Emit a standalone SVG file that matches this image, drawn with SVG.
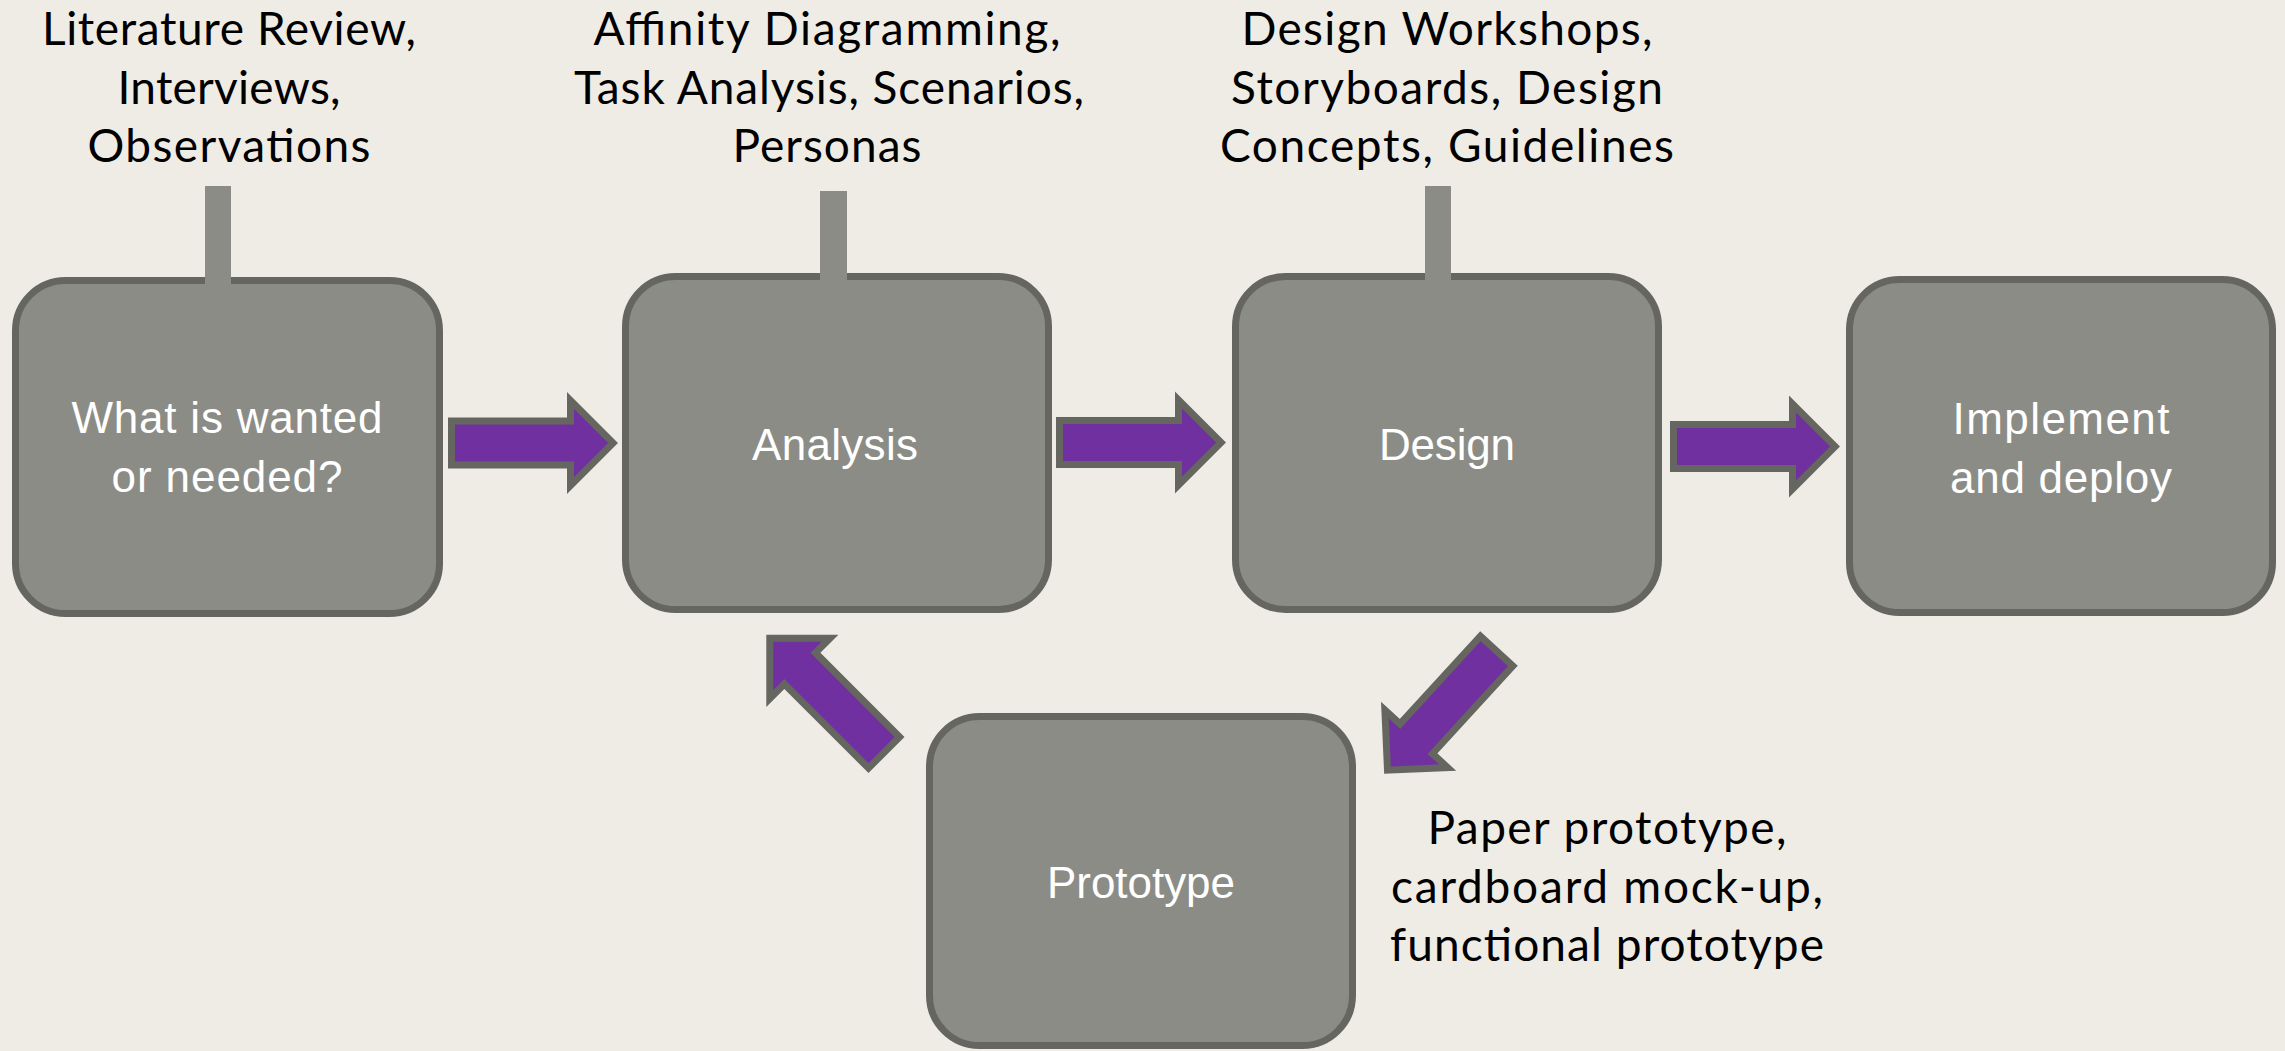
<svg xmlns="http://www.w3.org/2000/svg" xmlns:xlink="http://www.w3.org/1999/xlink" width="2285" height="1051" viewBox="0 0 2285 1051">
  <style>
    .box { fill: #8c8c87; stroke: #666661; stroke-width: 7; }
    .stem { fill: #8c8c87; }
    .arrow { fill: #7030a0; stroke: #666661; stroke-width: 7; stroke-linejoin: miter; }
    .label { font-family: Lato, "Open Sans", sans-serif; font-size: 46px; fill: #000; text-anchor: middle; }
    .title { font-family: "Liberation Sans", Arial, sans-serif; font-size: 44px; fill: #fff; text-anchor: middle; }
  </style>
  <defs>
    <!-- block arrow pointing along +x, origin at the tail centre -->
    <path id="blockArrow" class="arrow" d="M3.5,-22 H122.5 V-42.55 L165.05,0 L122.5,42.55 V22 H3.5 Z"/>
  </defs>

  <rect width="2285" height="1051" fill="#efece5"/>

  <g id="node-need">
    <text class="label" x="229" y="45" textLength="374">Literature Review,</text>
    <text class="label" x="229" y="103.5" textLength="223">Interviews,</text>
    <text class="label" x="229" y="162" textLength="283">Observations</text>
    <rect class="box" x="15.5" y="280.5" width="424" height="333" rx="50"/>
    <text class="title" x="227" y="433" textLength="311">What is wanted</text>
    <text class="title" x="227" y="492" textLength="231">or needed?</text>
  </g>

  <g id="node-analysis">
    <text class="label" x="827" y="45" textLength="467">Affinity Diagramming,</text>
    <text class="label" x="829" y="103.5" textLength="510">Task Analysis, Scenarios,</text>
    <text class="label" x="827" y="162" textLength="189">Personas</text>
    <rect class="box" x="625.5" y="276.5" width="423" height="333" rx="50"/>
    <text class="title" x="835" y="460" textLength="166">Analysis</text>
  </g>

  <g id="node-design">
    <text class="label" x="1447" y="45" textLength="411">Design Workshops,</text>
    <text class="label" x="1447" y="103.5" textLength="432">Storyboards, Design</text>
    <text class="label" x="1447" y="162" textLength="454">Concepts, Guidelines</text>
    <rect class="box" x="1235.5" y="276.5" width="423" height="333" rx="50"/>
    <text class="title" x="1447" y="460" textLength="136">Design</text>
  </g>

  <g id="node-deploy">
    <rect class="box" x="1849.5" y="279.5" width="423" height="333" rx="50"/>
    <text class="title" x="2061" y="434" textLength="217">Implement</text>
    <text class="title" x="2061" y="493" textLength="222">and deploy</text>
  </g>

  <g id="node-prototype">
    <rect class="box" x="929.5" y="716.5" width="423" height="329" rx="50"/>
    <text class="title" x="1141" y="898" textLength="188">Prototype</text>
    <text class="label" x="1607" y="844" textLength="359">Paper prototype,</text>
    <text class="label" x="1607" y="902.5" textLength="432">cardboard mock-up,</text>
    <text class="label" x="1607" y="961" textLength="434">functional prototype</text>
  </g>

  <g id="connectors">
    <!-- stems joining each method list to its stage -->
    <rect class="stem" x="205" y="186" width="26" height="98"/>
    <rect class="stem" x="820" y="191" width="27" height="89"/>
    <rect class="stem" x="1425" y="186" width="26" height="94"/>
    <!-- flow arrows -->
    <use xlink:href="#blockArrow" transform="translate(448,443)"/>
    <use xlink:href="#blockArrow" transform="translate(1056,442.5)"/>
    <use xlink:href="#blockArrow" transform="translate(1670,446.5)"/>
    <use xlink:href="#blockArrow" transform="translate(1499,648.5) rotate(132.5)"/>
    <use xlink:href="#blockArrow" transform="translate(886.5,755) rotate(225)"/>
  </g>
</svg>
